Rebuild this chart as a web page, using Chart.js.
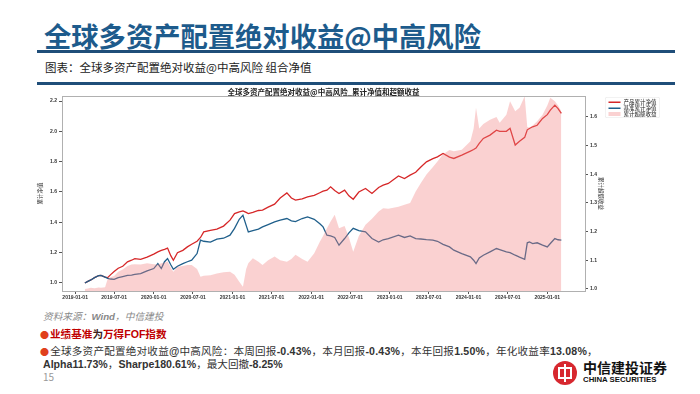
<!DOCTYPE html>
<html><head><meta charset="utf-8">
<script src="https://cdn.jsdelivr.net/npm/chart.js@4.4.1/dist/chart.umd.min.js"></script>
<style>
html,body{margin:0;padding:0;background:#fff;}
body{width:700px;height:394px;position:relative;overflow:hidden;font-family:"Noto Sans CJK SC","Liberation Sans",sans-serif;}
.abs{position:absolute;white-space:nowrap;}
#title{left:44px;top:17px;font-size:27.3px;line-height:36px;font-weight:700;color:#1d5b8c;}
.rule{position:absolute;left:37px;width:638px;height:3px;background:#1f4e79;}
#sub{left:45px;top:60px;font-size:11.5px;line-height:14px;color:#222;}
#ctitle{left:62px;width:523px;text-align:center;top:86.5px;font-size:7.5px;line-height:9px;font-weight:700;color:#222;}
#chartWrap{position:absolute;left:0;top:84px;width:700px;height:222px;}
#legend{left:605px;top:97px;width:108px;height:40px;border:1.5px solid #ddd;border-radius:4px;background:#fff;transform:scale(0.5);transform-origin:0 0;}
.lrow{position:absolute;left:0;height:12px;width:108px;}
.sw{position:absolute;left:6px;width:24px;}
.lt{position:absolute;left:36px;top:-2px;font-size:11px;line-height:14px;color:#222;}
#src{left:43px;top:310px;font-size:9.7px;line-height:12px;color:#888;font-style:italic;}
.line{left:40px;font-size:10.6px;line-height:13px;color:#333;}
.dot{color:#e0401c;font-size:9px;margin-right:1px;}
b{font-family:"Liberation Sans",sans-serif;}
#page{left:43px;top:371px;font-size:10px;line-height:12px;color:#999;}
#logoC{left:553px;top:361px;width:24px;height:24px;border-radius:50%;background:#d7282f;overflow:hidden;}
.lb{position:absolute;background:#fff;}
#logoCN{left:583px;top:359px;font-size:14px;line-height:16px;font-weight:700;color:#111;}
#logoEN{left:583px;top:374.5px;font-size:7.8px;line-height:9px;font-weight:700;color:#111;font-family:"Liberation Sans",sans-serif;}
</style></head>
<body>
<div id="title" class="abs">全球多资产配置绝对收益@中高风险</div>
<div class="rule" style="top:50px"></div>
<div id="sub" class="abs">图表：全球多资产配置绝对收益@中高风险 组合净值</div>
<div class="rule" style="top:82px"></div>
<div id="chartWrap"><canvas id="c" width="700" height="222"></canvas></div>
<div id="ctitle" class="abs">全球多资产配置绝对收益@中高风险_累计净值和超额收益</div>
<div id="legend" class="abs">
  <div class="lrow" style="top:3px"><div class="sw" style="top:5px;height:2.6px;background:#d62728"></div><div class="lt">产品累计净值</div></div>
  <div class="lrow" style="top:15px"><div class="sw" style="top:5px;height:2.6px;background:#1f5f8b"></div><div class="lt">基准累计净值</div></div>
  <div class="lrow" style="top:27px"><div class="sw" style="top:2px;height:8px;background:rgba(240,128,128,0.36)"></div><div class="lt">累计超额收益</div></div>
</div>
<div id="src" class="abs">资料来源：<b>Wind</b>，中信建投</div>
<div class="abs line" style="top:326.5px;color:#c00000;font-weight:700"><span class="dot">●</span>业绩基准<span style="color:#3a2020">为</span>万得<b>FOF</b>指数</div>
<div class="abs line" style="top:343.5px;letter-spacing:0.2px"><span class="dot">●</span>全球多资产配置绝对收益<b>@</b>中高风险：本周回报<b>-0.43%</b>，本月回报<b>-0.43%</b>，本年回报<b>1.50%</b>，年化收益率<b>13.08%</b>，</div>
<div class="abs line" style="top:356.5px;left:43px"><b>Alpha11.73%</b>，<b>Sharpe180.61%</b>，最大回撤<b>-8.25%</b></div>
<div id="page" class="abs">15</div>
<div id="logoC" class="abs">
  <div class="lb" style="left:5px;top:6px;width:2px;height:12px"></div>
  <div class="lb" style="left:17px;top:6px;width:2px;height:12px"></div>
  <div class="lb" style="left:11px;top:3px;width:2px;height:18px"></div>
  <div class="lb" style="left:5px;top:6px;width:14px;height:2px"></div>
  <div class="lb" style="left:5px;top:16px;width:14px;height:2px"></div>
</div>
<div id="logoCN" class="abs">中信建投证券</div>
<div id="logoEN" class="abs">CHINA SECURITIES</div>
<script>
const dates = [
'2019-02-15','2019-03-01','2019-03-15','2019-04-01','2019-04-20','2019-05-01','2019-05-20','2019-06-01','2019-06-15','2019-07-01',
'2019-07-20','2019-08-10','2019-09-01','2019-09-20','2019-10-05','2019-11-01','2019-12-01','2020-01-01','2020-01-20','2020-02-05',
'2020-02-20','2020-03-05','2020-03-20','2020-04-01','2020-04-20','2020-05-15','2020-06-05','2020-06-25','2020-07-20','2020-08-05',
'2020-08-20','2020-09-20','2020-10-20','2020-11-20','2020-12-20','2021-01-10','2021-02-01','2021-02-18','2021-03-05','2021-03-15',
'2021-04-05','2021-05-01','2021-05-20','2021-06-15','2021-07-15','2021-08-10','2021-09-10','2021-10-01','2021-10-20','2021-11-20',
'2021-12-15','2022-01-15','2022-02-10','2022-02-25','2022-03-15','2022-04-01','2022-04-20','2022-05-10','2022-06-05','2022-06-25',
'2022-07-15','2022-08-10','2022-09-10','2022-10-10','2022-11-10','2022-12-01','2022-12-25','2023-02-10','2023-03-10','2023-04-05',
'2023-05-01','2023-05-25','2023-06-20','2023-07-20','2023-08-10','2023-09-05','2023-10-05','2023-10-25','2023-12-01','2024-01-10',
'2024-01-25','2024-02-05','2024-02-20','2024-03-10','2024-04-10','2024-05-10','2024-05-25','2024-06-25','2024-07-12','2024-08-05',
'2024-08-25','2024-09-18','2024-09-30','2024-10-10','2024-10-25','2024-11-15','2024-12-10','2025-01-01','2025-01-15','2025-02-05',
'2025-02-20','2025-03-07'
];
const productNav = [
1.000,1.010,1.020,1.035,1.048,1.050,1.038,1.035,1.055,1.075,
1.097,1.110,1.139,1.150,1.160,1.155,1.170,1.190,1.205,1.215,
1.222,1.230,1.180,1.150,1.200,1.215,1.238,1.255,1.275,1.300,
1.337,1.347,1.355,1.375,1.414,1.458,1.469,1.475,1.465,1.458,
1.465,1.478,1.480,1.500,1.520,1.560,1.594,1.560,1.546,1.555,
1.568,1.578,1.595,1.605,1.612,1.634,1.610,1.590,1.612,1.575,
1.552,1.600,1.623,1.590,1.630,1.645,1.656,1.706,1.689,1.711,
1.730,1.765,1.799,1.820,1.832,1.854,1.830,1.821,1.843,1.870,
1.880,1.890,1.920,1.953,1.975,2.008,2.000,2.000,2.020,1.910,
1.935,1.960,2.010,2.019,2.030,2.040,2.085,2.110,2.140,2.173,
2.150,2.118
];
const benchmarkNav = [
1.000,1.010,1.020,1.035,1.048,1.050,1.038,1.030,1.026,1.024,
1.035,1.042,1.050,1.052,1.056,1.062,1.080,1.095,1.128,1.095,
1.140,1.161,1.120,1.090,1.110,1.128,1.140,1.150,1.194,1.282,
1.275,1.270,1.289,1.295,1.315,1.360,1.420,1.447,1.380,1.337,
1.345,1.355,1.370,1.385,1.403,1.415,1.425,1.410,1.405,1.425,
1.436,1.420,1.390,1.370,1.315,1.310,1.300,1.249,1.293,1.330,
1.360,1.345,1.337,1.293,1.270,1.285,1.293,1.315,1.300,1.310,
1.292,1.290,1.286,1.283,1.275,1.255,1.238,1.216,1.194,1.172,
1.150,1.128,1.165,1.183,1.205,1.227,1.220,1.205,1.200,1.183,
1.170,1.156,1.265,1.271,1.260,1.265,1.250,1.238,1.260,1.293,
1.285,1.283
];
const excessReturn = [
1.000,1.002,1.004,1.003,1.005,1.004,1.006,1.035,1.042,1.045,
1.060,1.068,1.080,1.085,1.086,1.085,1.090,1.086,1.085,1.090,
1.092,1.096,1.075,1.060,1.078,1.080,1.084,1.084,1.070,1.043,
1.046,1.048,1.054,1.058,1.060,1.050,1.025,1.008,1.070,1.090,
1.107,1.095,1.084,1.100,1.113,1.100,1.095,1.105,1.119,1.105,
1.095,1.125,1.165,1.185,1.212,1.235,1.259,1.212,1.220,1.180,
1.130,1.185,1.224,1.245,1.270,1.282,1.280,1.287,1.294,1.300,
1.340,1.370,1.399,1.425,1.445,1.470,1.485,1.480,1.486,1.515,
1.560,1.632,1.560,1.575,1.590,1.600,1.580,1.608,1.655,1.620,
1.632,1.672,1.565,1.562,1.570,1.585,1.608,1.640,1.667,1.655,
1.640,1.620
];
const xTickLabels = ['2019-01-01','2019-07-01','2020-01-01','2020-07-01','2021-01-01','2021-07-01','2022-01-01',
  '2022-07-01','2023-01-01','2023-07-01','2024-01-01','2024-07-01','2025-01-01'];
const leftTicks = [1.0,1.2,1.4,1.6,1.8,2.0,2.2];
const rightTicks = [1.0,1.1,1.2,1.3,1.4,1.5,1.6];
const seriesNames = ['产品累计净值','基准累计净值','累计超额收益'];

const toMs = s => Date.parse(s + 'T00:00:00Z');
const pts = arr => arr.map((v, i) => ({x: toMs(dates[i]), y: v}));
const tickFont = {family: 'Liberation Sans', size: 5, weight: 'bold'};
const titleFont = {family: 'Noto Sans CJK SC', size: 5.5};

const framePlugin = {
  id: 'frame',
  afterDraw(chart) {
    const {ctx, chartArea: a} = chart;
    ctx.save();
    ctx.strokeStyle = '#b0b0b0';
    ctx.lineWidth = 1;
    ctx.strokeRect(Math.round(a.left) + 0.5, Math.round(a.top) + 0.5, Math.round(a.right - a.left), Math.round(a.bottom - a.top));
    ctx.restore();
  }
};

new Chart(document.getElementById('c'), {
  type: 'line',
  data: {
    datasets: [
      {label: seriesNames[2], data: pts(excessReturn), yAxisID: 'y1', borderColor: 'rgba(0,0,0,0)', borderWidth: 0,
       backgroundColor: 'rgba(240,128,128,0.36)', fill: 'start', pointRadius: 0, order: 0},
      {label: seriesNames[1], data: pts(benchmarkNav), yAxisID: 'y', borderColor: '#1f5f8b', borderWidth: 1.3,
       fill: false, pointRadius: 0, order: 1},
      {label: seriesNames[0], data: pts(productNav), yAxisID: 'y', borderColor: '#d62728', borderWidth: 1.3,
       fill: false, pointRadius: 0, order: 2}
    ]
  },
  options: {
    responsive: false,
    animation: false,
    layout: {padding: {left: 34, right: 93, top: 12, bottom: 5}},
    plugins: {legend: {display: false}, tooltip: {enabled: false}, title: {display: false}},
    scales: {
      x: {
        type: 'linear', min: toMs('2018-11-01'), max: toMs('2025-06-25'),
        afterBuildTicks: s => { s.ticks = xTickLabels.map(l => ({value: toMs(l)})); },
        ticks: {callback: (v, i) => xTickLabels[i], font: tickFont, color: '#333', maxRotation: 0, autoSkip: false, padding: 1},
        grid: {display: true, drawOnChartArea: false, drawTicks: true, tickLength: 3, color: '#555'},
        border: {display: false},
        afterFit: s => { s.height = 10; }
      },
      y: {
        position: 'left', min: 0.947, max: 2.233,
        afterBuildTicks: s => { s.ticks = leftTicks.map(v => ({value: v})); },
        ticks: {callback: v => v.toFixed(1), font: tickFont, color: '#333', padding: 2},
        grid: {display: true, drawOnChartArea: false, drawTicks: true, tickLength: 3, color: '#555'},
        border: {display: false},
        title: {display: true, text: '累计净值', font: titleFont, color: '#333', padding: {top: 3, bottom: 0}},
        afterFit: s => { s.width = 28; }
      },
      y1: {
        position: 'right', min: 0.993, max: 1.673,
        afterBuildTicks: s => { s.ticks = rightTicks.map(v => ({value: v})); },
        ticks: {callback: v => v.toFixed(1), font: tickFont, color: '#333', padding: 2},
        grid: {display: true, drawOnChartArea: false, drawTicks: true, tickLength: 3, color: '#555'},
        border: {display: false},
        title: {display: true, text: '累计超额收益', font: titleFont, color: '#333', padding: {top: 3, bottom: 0}},
        afterFit: s => { s.width = 22; }
      }
    }
  },
  plugins: [framePlugin]
});
</script>
</body></html>
